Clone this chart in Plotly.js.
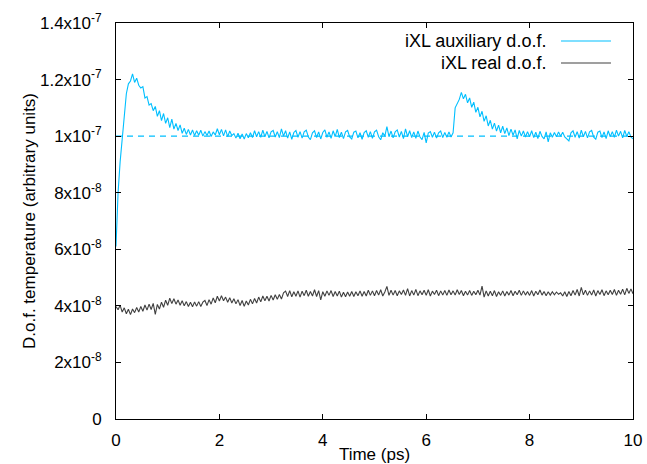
<!DOCTYPE html>
<html>
<head>
<meta charset="utf-8">
<script src="https://cdn.plot.ly/plotly-3.0.1.min.js"></script>
<style>html,body{margin:0;padding:0;background:#fff;}#chart{width:647px;height:464px;}</style>
</head>
<body>
<div id="chart"></div>
<script>
// Sampling grid of the time axis (ps)
const timeStep = 0.04;
const sampleCount = 251;

// Values in units of 1e-9 (arbitrary units)
const auxiliaryDof = [
 61, 80, 91, 99, 108, 115, 118.5, 119.5, 122, 119,
 120.5, 118, 117, 117.5, 113.5, 114, 111, 111.5, 109, 110.5,
 107, 109, 105.5, 108, 104.5, 106.5, 103, 106, 102.5, 104.5,
 102, 104, 101, 102.8, 100.6, 102.4, 100.4, 102.2, 100.2, 101.9,
 100.3, 102.1, 100.0, 101.6, 100.2, 101.8, 99.9, 101.5, 100.4, 102.6,
 100.5, 102.4, 100.1, 102.2, 99.8, 101.8, 100.2, 100.9, 99.3, 101.0,
 99.1, 100.8, 99.0, 100.9, 99.4, 101.2, 99.5, 101.9, 99.8, 101.6,
 99.6, 102.1, 99.8, 101.7, 99.4, 101.5, 102.0, 99.7, 101.6, 99.5,
 102.6, 100.0, 101.9, 99.3, 101.5, 98.9, 101.3, 102.0, 99.6, 101.6,
 99.3, 101.5, 102.1, 99.7, 98.8, 101.2, 101.9, 99.5, 101.5, 99.0,
 101.3, 102.2, 99.6, 101.5, 99.2, 101.9, 99.8, 102.4, 99.5, 101.4,
 99.1, 101.5, 102.0, 99.7, 99.0, 101.4, 101.8, 99.4, 101.2, 98.9,
 101.3, 101.9, 99.6, 101.6, 99.2, 101.5, 102.1, 99.8, 98.7, 101.2,
 100.0, 103.4, 99.8, 101.8, 99.4, 101.5, 102.2, 99.7, 101.7, 99.1,
 102.6, 99.8, 101.9, 99.5, 101.5, 99.2, 101.8, 99.7, 98.8, 101.3,
 97.6, 101.1, 101.6, 99.6, 101.4, 99.3, 101.2, 101.8, 99.5, 101.3,
 99.6, 101.5, 99.7, 101.2, 110.0, 111.5, 113.0, 115.5, 113.2, 114.8,
 111.8, 113.5, 110.2, 112.0, 108.4, 110.2, 106.8, 108.8, 105.2, 107.2,
 103.6, 105.6, 102.5, 104.6, 101.8, 103.9, 101.2, 103.5, 100.9, 102.9,
 100.2, 102.5, 100.3, 102.2, 99.0, 102.0, 100.0, 101.8, 99.7, 101.6,
 99.8, 101.9, 99.5, 101.4, 99.1, 101.7, 99.9, 99.0, 101.5, 98.0,
 101.2, 99.6, 101.3, 99.8, 101.5, 100.0, 101.4, 99.7, 98.9, 98.3,
 101.2, 101.9, 99.6, 101.6, 99.3, 102.1, 99.8, 101.7, 99.4, 101.5,
 102.0, 99.6, 98.9, 101.4, 101.8, 99.5, 101.5, 99.1, 101.9, 99.8,
 101.6, 99.6, 102.1, 100.0, 101.7, 99.4, 102.0, 99.9, 101.6, 99.7,
 99.0
];

const realDof = [
 39.8, 38.6, 40.2, 37.8, 39.3, 37.2, 38.8, 36.9, 38.9, 37.6,
 39.4, 37.8, 39.8, 38.1, 40.3, 38.5, 40.6, 38.7, 40.9, 37.0,
 40.5, 38.9, 41.3, 39.5, 42.0, 40.2, 42.7, 40.8, 42.5, 40.6,
 42.1, 40.2, 41.8, 40.0, 41.5, 39.8, 41.3, 39.7, 41.4, 39.9,
 41.5, 39.8, 41.3, 41.9, 40.1, 42.2, 40.6, 42.8, 41.1, 43.4,
 41.7, 43.6, 41.8, 43.1, 41.3, 42.9, 41.0, 42.5, 40.7, 42.2,
 40.1, 41.9, 39.8, 41.7, 40.3, 42.3, 40.7, 42.6, 41.0, 43.1,
 41.4, 43.5, 41.8, 43.4, 41.7, 43.7, 42.1, 43.9, 42.3, 44.0,
 42.4, 44.6, 45.2, 43.3, 45.4, 43.2, 45.0, 43.4, 45.3, 43.1,
 45.2, 43.6, 45.5, 43.4, 45.1, 43.5, 45.7, 43.3, 45.4, 42.1,
 45.0, 43.4, 45.3, 43.7, 45.4, 43.3, 45.1, 43.5, 45.2, 43.1,
 44.8, 43.2, 44.9, 43.4, 45.1, 43.3, 45.0, 43.6, 45.3, 43.4,
 45.1, 43.5, 45.5, 43.7, 45.3, 43.6, 45.4, 43.8, 45.7, 43.5,
 44.9, 46.9, 43.7, 45.5, 43.8, 45.4, 43.6, 45.3, 44.0, 45.6,
 43.7, 46.1, 43.5, 45.4, 43.8, 45.8, 43.6, 45.3, 43.9, 45.5,
 43.7, 45.7, 43.5, 45.2, 44.0, 45.5, 43.6, 45.3, 43.8, 45.4,
 43.7, 45.6, 43.9, 45.3, 43.8, 45.7, 44.0, 45.4, 43.6, 45.2,
 43.8, 45.4, 43.7, 45.2, 43.9, 45.5, 43.8, 47.0, 43.1, 45.3,
 43.5, 45.2, 43.6, 45.4, 43.3, 45.0, 43.7, 45.3, 43.5, 45.1,
 43.8, 45.4, 43.6, 45.2, 43.9, 45.5, 43.7, 45.3, 43.8, 45.1,
 43.7, 45.4, 43.5, 45.2, 43.9, 45.6, 43.8, 45.1, 43.6, 45.0,
 43.8, 45.0, 43.9, 44.9, 44.1, 44.6, 43.5, 45.0, 43.3, 45.1,
 43.6, 45.4, 43.8, 45.8, 43.5, 46.5, 43.9, 45.5, 43.7, 45.3,
 43.8, 45.6, 43.5, 45.4, 44.0, 45.7, 43.6, 45.3, 43.9, 45.5,
 44.0, 45.8, 43.7, 45.5, 44.1, 45.9, 43.9, 46.2, 44.4, 46.0,
 44.3
];

const valueUnit = 1e-9;
const targetTemperature = 1e-7;
const xTickVals = [0, 2, 4, 6, 8, 10];
const yTickVals = [0, 2e-8, 4e-8, 6e-8, 8e-8, 1e-7, 1.2e-7, 1.4e-7];
const yTickText = ['0', '2x10<sup>-8</sup>', '4x10<sup>-8</sup>', '6x10<sup>-8</sup>', '8x10<sup>-8</sup>',
                   '1x10<sup>-7</sup>', '1.2x10<sup>-7</sup>', '1.4x10<sup>-7</sup>'];
const seriesNames = ['iXL auxiliary d.o.f.', 'iXL real d.o.f.'];
const seriesColors = ['#00bfff', '#404040'];

const times = [];
for (let i = 0; i < sampleCount; i++) times.push(+(i * timeStep).toFixed(2));

const font = {family: 'Liberation Sans, Arial, sans-serif', size: 17, color: '#000'};
const legendFont = {family: 'Liberation Sans, Arial, sans-serif', size: 18, color: '#000'};

const traces = [
  {x: [0, 10], y: [targetTemperature, targetTemperature], mode: 'lines',
   line: {color: seriesColors[0], width: 1.2, dash: '6px,5px'}, hoverinfo: 'skip', showlegend: false},
  {x: times, y: auxiliaryDof.map(v => v * valueUnit), mode: 'lines', name: seriesNames[0],
   line: {color: seriesColors[0], width: 1.1}, showlegend: false},
  {x: times, y: realDof.map(v => v * valueUnit), mode: 'lines', name: seriesNames[1],
   line: {color: seriesColors[1], width: 1.1}, showlegend: false}
];

const legendTextX = 0.8356;
const legendLine = [0.8607, 0.9574];
const legendRows = [0.9545, 0.899];

const layout = {
  width: 647, height: 464,
  margin: {l: 116, r: 14, t: 23, b: 45},
  paper_bgcolor: '#fff', plot_bgcolor: '#fff',
  font: font,
  showlegend: false,
  xaxis: {
    range: [0, 10], tickvals: xTickVals, ticktext: xTickVals.map(String),
    ticks: 'inside', ticklen: 5, tickcolor: '#000', tickwidth: 1,
    showline: true, linecolor: '#000', linewidth: 1, mirror: 'ticks',
    showgrid: false, zeroline: false,
    tickfont: font, ticklabelstandoff: 6,
    title: {text: 'Time (ps)', font: font, standoff: 2}
  },
  yaxis: {
    range: [0, 1.4e-7], tickvals: yTickVals, ticktext: yTickText,
    ticks: 'inside', ticklen: 5, tickcolor: '#000', tickwidth: 1,
    showline: true, linecolor: '#000', linewidth: 1, mirror: 'ticks',
    showgrid: false, zeroline: false,
    tickfont: font, ticklabelstandoff: 10,
    title: {text: 'D.o.f. temperature (arbitrary units)', font: font, standoff: 0}
  },
  annotations: seriesNames.map((n, i) => ({
    xref: 'paper', yref: 'paper', x: legendTextX, y: legendRows[i],
    xanchor: 'right', yanchor: 'middle', text: n, showarrow: false, font: legendFont
  })),
  shapes: seriesNames.map((n, i) => ({
    type: 'line', xref: 'paper', yref: 'paper',
    x0: legendLine[0], x1: legendLine[1], y0: legendRows[i], y1: legendRows[i],
    line: {color: seriesColors[i], width: 1.2}
  }))
};

Plotly.newPlot('chart', traces, layout, {displayModeBar: false, staticPlot: true});
</script>
</body>
</html>
